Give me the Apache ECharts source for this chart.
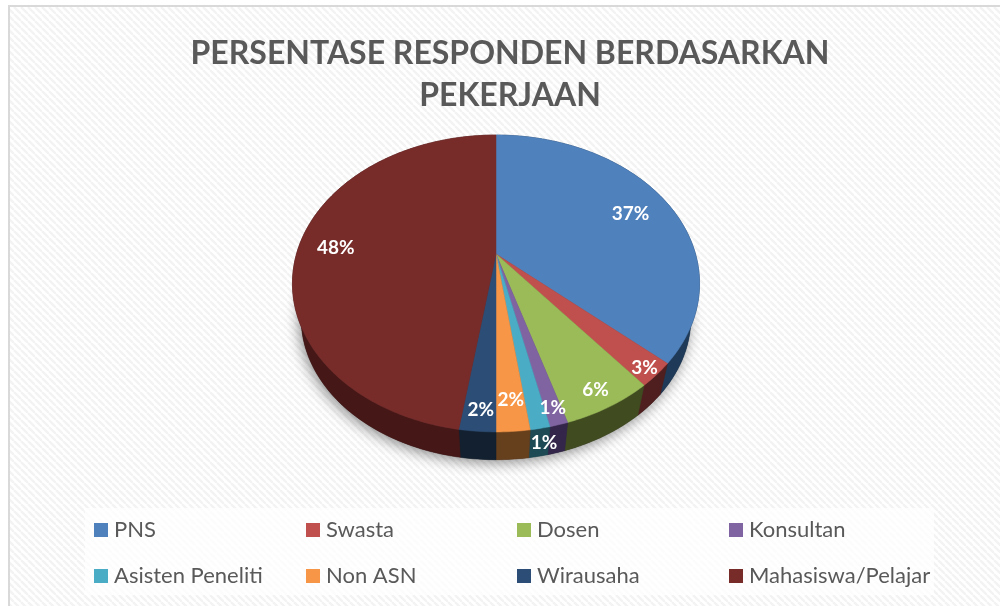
<!DOCTYPE html>
<html>
<head>
<meta charset="utf-8">
<style>html,body{margin:0;padding:0;background:#fff}#c{width:1000px;height:606px}</style>
<script src="https://cdn.jsdelivr.net/npm/echarts@6/dist/echarts.min.js"></script>
</head>
<body>
<div id="c"></div>
<script>
const categories = ['PNS','Swasta','Dosen','Konsultan','Asisten Peneliti','Non ASN','Wirausaha','Mahasiswa/Pelajar'];
const values = [36.6,2.6,6.1,1.2,1.3,2.2,2.4,47.6];
const topColors = ['#4f81bd','#c0504d','#9bbb59','#8064a2','#4bacc6','#f79646','#2c4d75','#772c2a'];
const sideColors = ['#1f3a58','#4f1e1e','#404b20','#33264a','#1d4a55','#663f1c','#12202f','#451716'];
const labelRadius = [0.78,0.93,0.89,0.905,1.05,0.84,0.886,0.82];
const legendColumns = [[0,4],[1,5],[2,6],[3,7]];
const legendLeft = [94,306,517,729];

const FONT = 'Lato';
const K = 0.1987;
const topFace = {cx:496, cy:254, r:199.5, b:142.6};
const lowFace = {cx:496, cy:290, r:191, b:136};
const total = values.reduce((a,b)=>a+b,0);
const starts = [];
values.reduce((acc,v,i)=>{starts[i]=acc;return acc+v;},0);

function project(face, frac, radius){
  const th = frac/total*Math.PI*2;
  const X = Math.sin(th)*radius, Y = -Math.cos(th)*radius;
  const w = 1-K*Y;
  return [face.cx+face.r*X/w, face.cy+face.b*Y/w];
}
function arc(face, from, to){
  const pts=[]; const n=Math.max(2,Math.ceil((to-from)*4));
  for(let s=0;s<=n;s++) pts.push(project(face, from+(to-from)*s/n, 1));
  return pts;
}

const tile = document.createElement('canvas');
tile.width = 7; tile.height = 7;
(function(){
  const g = tile.getContext('2d');
  g.fillStyle='#ffffff'; g.fillRect(0,0,7,7);
  g.strokeStyle='#f3f3f3'; g.lineWidth=2.4;
  [-7,0,7].forEach(o=>{g.beginPath();g.moveTo(o,0);g.lineTo(o+7,7);g.stroke();});
})();

const sideSeries = {
  type:'custom', name:'sisi', coordinateSystem:'none', silent:true, data:[[0]],
  renderItem(){
    const children=[{
      type:'polygon', shape:{points:arc(lowFace,0,total)},
      style:{fill:'#333',shadowBlur:14,shadowColor:'rgba(0,0,0,0.45)',shadowOffsetX:-2,shadowOffsetY:3}
    }];
    values.forEach((v,i)=>{
      const pts=arc(topFace,starts[i],starts[i]+v).concat(arc(lowFace,starts[i],starts[i]+v).reverse());
      children.push({type:'polygon',shape:{points:pts},
        style:{fill:sideColors[i],stroke:sideColors[i],lineWidth:0.5}});
    });
    return {type:'group',children};
  }
};

const sliceSeries = categories.map((name,i)=>({
  type:'custom', name, coordinateSystem:'none', data:[[values[i]]],
  itemStyle:{color:topColors[i]},
  renderItem(){
    const pts=[[topFace.cx,topFace.cy]].concat(arc(topFace,starts[i],starts[i]+values[i]));
    return {type:'polygon',shape:{points:pts},
      style:{fill:topColors[i],stroke:topColors[i],lineWidth:0.5}};
  }
}));

const labelSeries = {
  type:'custom', name:'label', coordinateSystem:'none', silent:true, data:[[0]],
  renderItem(){
    return {type:'group',children:values.map((v,i)=>{
      const p=project(topFace,starts[i]+v/2,labelRadius[i]);
      return {type:'text',x:p[0]+1,y:p[1]+3,style:{
        text:Math.round(v/total*100)+'%',fill:'#fff',
        font:'bold 19px '+FONT,align:'center',verticalAlign:'middle'}};
    })};
  }
};

const chart = echarts.init(document.getElementById('c'),null,{renderer:'canvas'});
chart.setOption({
  animation:false,
  backgroundColor:'#fff',
  title:{
    text:'PERSENTASE RESPONDEN BERDASARKAN\nPEKERJAAN',
    left:505, top:28, textAlign:'center',
    textStyle:{fontFamily:FONT,fontWeight:'bold',fontSize:32,lineHeight:42,color:'#595959'}
  },
  graphic:[
    {type:'rect',z:-10,shape:{x:9,y:6,width:1010,height:620},
      style:{fill:{image:tile,repeat:'repeat'},stroke:'#d9d9d9',lineWidth:2}},
    {type:'rect',z:-9,shape:{x:85,y:508,width:849,height:87},
      style:{fill:'rgba(255,255,255,0.75)'}}
  ],
  legend:legendColumns.map((idx,c)=>({
    orient:'vertical', left:legendLeft[c], top:519, itemWidth:14, itemHeight:14, itemGap:24,
    padding:0, icon:'rect', selectedMode:false,
    data:idx.map(i=>categories[i]),
    textStyle:{fontFamily:FONT,fontSize:22,color:'#595959',padding:[0,0,0,1]}
  })),
  series:[sideSeries].concat(sliceSeries,[labelSeries])
});
</script>
</body>
</html>
